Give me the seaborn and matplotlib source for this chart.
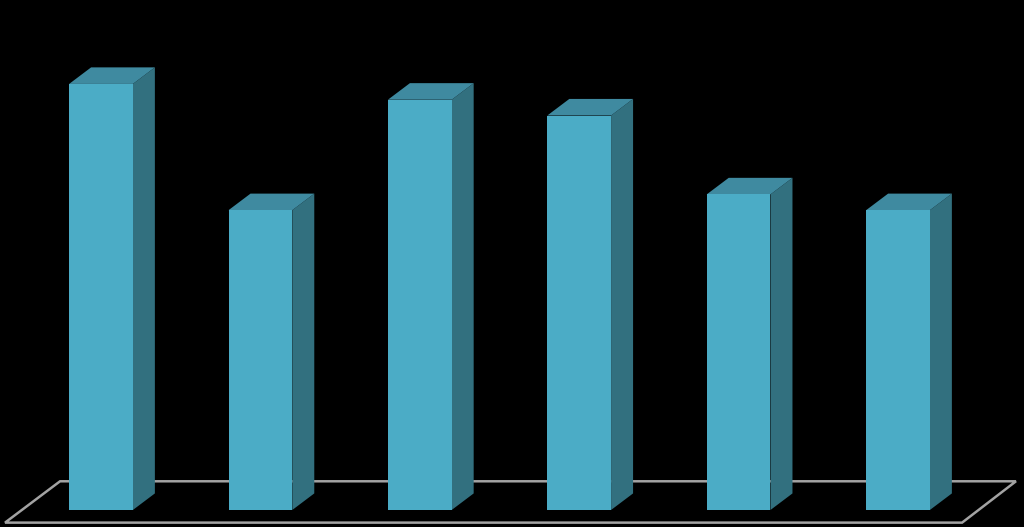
import seaborn as sns
import matplotlib.pyplot as plt
import pandas as pd
from matplotlib.patches import Polygon

# Values (the chart has no visible labels)
categories = ["A", "B", "C", "D", "E", "F"]
values = [2.7, 1.9, 2.6, 2.5, 2.0, 1.9]

df = pd.DataFrame({"category": categories, "value": values})

FRONT = "#4bacc6"
SIDE = "#32707f"
TOP = "#3f8aa0"
FLOOR = "#a3a3a3"

# 3D look: depth of the extruded bars, in data units
DEPTH_X = 0.138
DEPTH_Y = 0.105

sns.set_style("white")

fig = plt.figure(figsize=(10.24, 5.27), dpi=100, facecolor="black")
ax = fig.add_axes([21.3 / 1024, 17 / 527, 956.4 / 1024, 473.4 / 527])

sns.barplot(data=df, x="category", y="value", color=FRONT, saturation=1,
            width=0.4, linewidth=0, edgecolor="none", ax=ax, zorder=3)

ax.set_xlim(-0.5, 5.5)
ax.set_ylim(0, 3)
ax.axis("off")

# floor outline
ax.add_patch(Polygon([(-0.602, -0.08), (5.402, -0.08), (5.74, 0.182), (-0.257, 0.182)],
                     closed=True, fill=False, edgecolor=FLOOR, linewidth=1.8,
                     clip_on=False, zorder=1))

# side and top faces built from each bar
for bar in ax.patches[:len(values)]:
    x0 = bar.get_x()
    x1 = x0 + bar.get_width()
    h = bar.get_height()
    ax.add_patch(Polygon([(x1, 0), (x1 + DEPTH_X, DEPTH_Y), (x1 + DEPTH_X, h + DEPTH_Y), (x1, h)],
                         closed=True, facecolor=SIDE, edgecolor="none", clip_on=False, zorder=2))
    ax.add_patch(Polygon([(x0, h), (x0 + DEPTH_X, h + DEPTH_Y), (x1 + DEPTH_X, h + DEPTH_Y), (x1, h)],
                         closed=True, facecolor=TOP, edgecolor="none", clip_on=False, zorder=2))

plt.savefig("out.png", dpi=100, facecolor="black")
plt.close()
